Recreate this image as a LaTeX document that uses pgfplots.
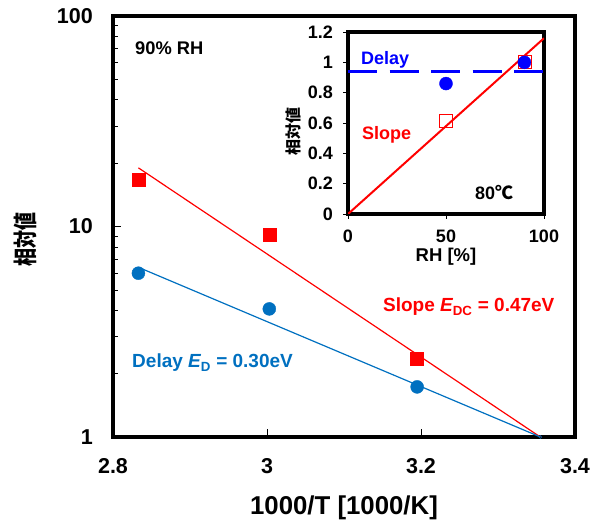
\documentclass[border=0pt]{standalone}
\usepackage{fontspec}
\setmainfont{Liberation Sans}
\newfontfamily\cjk{Noto Sans CJK JP}
\usepackage{graphicx}
\usepackage{pgfplots}
\pgfplotsset{compat=1.18}
\definecolor{dblue}{RGB}{0,112,192}
\definecolor{ired}{RGB}{255,0,0}
\definecolor{iblue}{RGB}{0,0,255}
\begin{document}
\begin{tikzpicture}
\useasboundingbox (-113pt,-87pt) rectangle (488pt,437pt);
\begin{axis}[name=main, at={(0,0)}, anchor=south west, scale only axis,
  width=462pt, height=421pt,
  xmin=2.8, xmax=3.4, ymode=log, ymin=1, ymax=100,
  xtick={2.8,3,3.2,3.4}, xticklabels={2.8,3,3.2,3.4},
  ytick={1,10,100}, yticklabels={1,10,100},
  tick align=inside, tick pos=left,
  axis line style={line width=4pt},
  major tick length=8pt, minor tick length=5pt,
  tick style={black, line width=0.6pt},
  /pgf/number format/assume math mode=true,
  ticklabel style={font=\bfseries\fontsize{21.5}{21.5}\selectfont, inner sep=0pt},
  xticklabel style={anchor=center, yshift=-29pt},
  yticklabel style={anchor=east, xshift=-20pt},
  xlabel={1000/T [1000/K]}, ylabel={\scalebox{0.75}[1]{\cjk\bfseries 相対値}},
  xlabel style={font=\bfseries\fontsize{25.8}{25.8}\selectfont, at={(axis description cs:0.5,-0.169)}, anchor=center},
  ylabel style={font=\bfseries\fontsize{24}{24}\selectfont, at={(axis description cs:-0.189,0.468)}, anchor=center},
  clip=false]
\addplot[ired, line width=1.2pt] coordinates {(2.833,19.0) (3.355,1)};
\addplot[dblue, line width=1.2pt] coordinates {(2.833,6.4) (3.355,1)};
\addplot[only marks, mark=square*, mark size=6.5pt, ired] coordinates {(2.833,16.6) (3.003,9.1) (3.195,2.35)};
\addplot[only marks, mark=*, mark size=6.5pt, dblue] coordinates {(2.833,6.0) (3.003,4.06) (3.195,1.73)};
\addplot[only marks, mark=o, mark size=1.5pt, dblue] coordinates {(3.355,1)};
\node[anchor=base west, inner sep=0pt, font=\bfseries\fontsize{18.3}{18.3}\selectfont] at (axis cs:2.8286,65.3) {90\% RH};
\node[anchor=base west, inner sep=0pt, text=ired, font=\bfseries\fontsize{19}{19}\selectfont] at (axis cs:3.1506,3.93) {Slope {\itshape E}\textsubscript{DC} = 0.47eV};
\node[anchor=base west, inner sep=0pt, text=dblue, font=\bfseries\fontsize{19}{19}\selectfont] at (axis cs:2.8247,2.13) {Delay {\itshape E}\textsubscript{D} = 0.30eV};
\end{axis}
\begin{axis}[at={(235pt,223pt)}, anchor=south west, scale only axis,
  width=196pt, height=182pt,
  xmin=0, xmax=100, ymin=0, ymax=1.2,
  xtick={0,50,100}, xticklabels={0,50,100},
  ytick={0,0.2,0.4,0.6,0.8,1,1.2}, yticklabels={0,0.2,0.4,0.6,0.8,1,1.2},
  tick align=outside, tick pos=left,
  axis line style={line width=4pt},
  major tick length=5pt,
  tick style={black, line width=0.6pt},
  /pgf/number format/assume math mode=true,
  ticklabel style={font=\bfseries\fontsize{18}{18}\selectfont, inner sep=0pt},
  xticklabel style={anchor=center, yshift=-17pt},
  yticklabel style={anchor=east, xshift=-10pt},
  xlabel={RH [\%]}, ylabel={\cjk\bfseries 相対値},
  xlabel style={font=\bfseries\fontsize{18.5}{18.5}\selectfont, at={(axis description cs:0.5,-0.232)}, anchor=center},
  ylabel style={font=\bfseries\fontsize{16}{16}\selectfont, at={(axis description cs:-0.276,0.456)}, anchor=center},
  axis background/.style={fill=white}]
\addplot[iblue, line width=2.5pt, dash pattern=on 29pt off 12.5pt] coordinates {(0,0.94) (100,0.94)};
\addplot[only marks, mark=square, mark size=6.5pt, ired, mark options={line width=0.8pt}] coordinates {(50,0.613) (90,1.0)};
\addplot[ired, line width=2pt] coordinates {(0,0) (100,1.159)};
\addplot[only marks, mark=*, mark size=6.5pt, iblue] coordinates {(50,0.86) (90,1.0)};
\node[anchor=base west, inner sep=0pt, text=iblue, font=\bfseries\fontsize{18}{18}\selectfont] at (axis cs:6.6,0.987) {Delay};
\node[anchor=base west, inner sep=0pt, text=ired, font=\bfseries\fontsize{18}{18}\selectfont] at (axis cs:7.1,0.493) {Slope};
\node[anchor=base west, inner sep=0pt, font=\bfseries\fontsize{18}{18}\selectfont] at (axis cs:64.8,0.093) {80{\cjk ℃}};
\end{axis}
\end{tikzpicture}
\end{document}
